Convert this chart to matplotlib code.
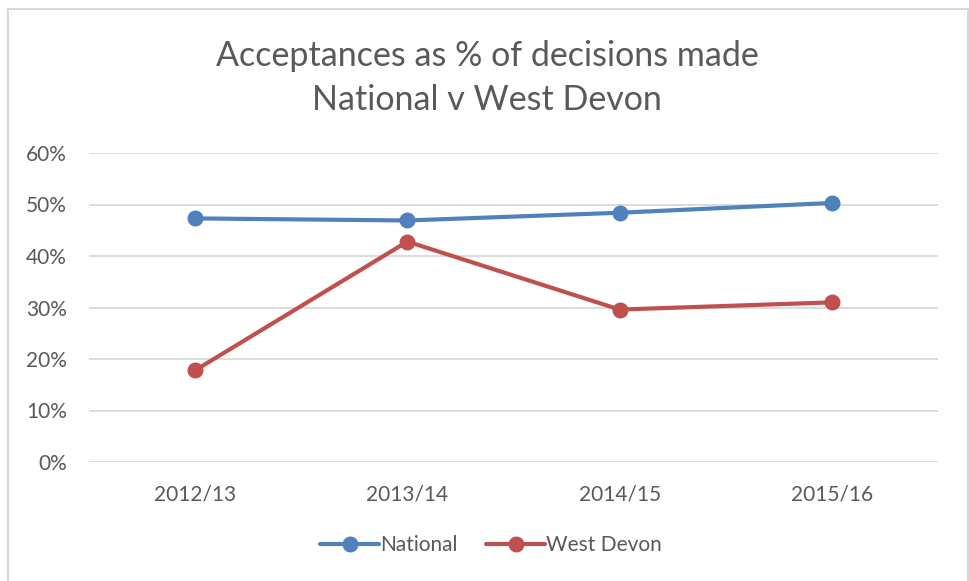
import matplotlib.pyplot as plt
from matplotlib.patches import Rectangle
from matplotlib.ticker import PercentFormatter

# Acceptances as % of decisions made
years = ["2012/13", "2013/14", "2014/15", "2015/16"]
national = [47.3, 46.9, 48.4, 50.3]
west_devon = [17.8, 42.8, 29.6, 31.0]

BLUE = "#4F81BD"
RED = "#C0504D"
TEXT = "#595959"
GRID = "#D9D9D9"

plt.rcParams["font.family"] = ["Lato", "DejaVu Sans"]

fig = plt.figure(figsize=(9.7, 5.81), dpi=100)
ax = fig.add_axes([89 / 970, 1 - 462 / 581, (938 - 89) / 970, (462 - 153) / 581])

x = list(range(len(years)))
ax.plot(x, national, color=BLUE, lw=3, marker="o", ms=10.5, label="National",
        solid_capstyle="round")
ax.plot(x, west_devon, color=RED, lw=3, marker="o", ms=10.5, label="West Devon",
        solid_capstyle="round")

ax.set_xlim(-0.5, len(years) - 0.5)
ax.set_ylim(0, 60)
ax.set_yticks(range(0, 61, 10))
ax.yaxis.set_major_formatter(PercentFormatter(decimals=0))
ax.set_xticks(x)
ax.set_xticklabels(years)
ax.grid(axis="y", color=GRID, lw=1.3)
ax.set_axisbelow(True)
for s in ax.spines.values():
    s.set_visible(False)
ax.tick_params(length=0, labelsize=15, labelcolor=TEXT)
ax.tick_params(axis="x", pad=16)
ax.tick_params(axis="y", pad=16)

fig.text(487 / 970, 1 - 56 / 581, "Acceptances as % of decisions made",
         ha="center", va="center", fontsize=24.5, color=TEXT)
fig.text(487 / 970, 1 - 100 / 581, "National v West Devon",
         ha="center", va="center", fontsize=24.5, color=TEXT)

fig.legend(loc="center", bbox_to_anchor=(491 / 970, 1 - 545 / 581), ncol=2,
           frameon=False, fontsize=15, labelcolor=TEXT, handlelength=2.8,
           handletextpad=0.05, columnspacing=1.4)

# chart frame
fig.patches.append(Rectangle((8 / 970, -0.05), 960 / 970, 1.05 - 9 / 581,
                             transform=fig.transFigure, fill=False,
                             edgecolor=GRID, lw=1.5))

fig.savefig("out.png", dpi=100)
